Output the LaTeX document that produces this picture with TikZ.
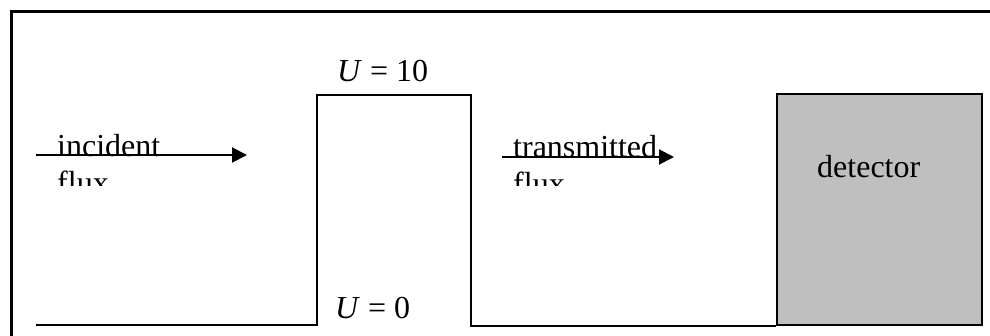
\documentclass[tikz,border=0pt]{standalone}
\usepackage{fontspec}
\setmainfont{Liberation Serif}
\usetikzlibrary{arrows.meta,positioning}

\begin{document}
\begin{tikzpicture}[
    x=1pt, y=-1pt,
    >={Triangle[length=15pt,width=15pt]},
    lbl/.style={inner sep=0pt, font=\fontsize{32}{38}\selectfont},
    line/.style={line width=1.5pt},
    arr/.style={->, line width=2pt},
    detbox/.style={rectangle, draw, line width=1.5pt, fill=black!25, minimum width=205pt, minimum height=231pt}
]
    \clip (0,0) rectangle (990,335);
    % outer frame, runs past the right and bottom edges
    \draw[line width=3pt] (11.5,11.5) rectangle (1010,360);

    % potential: ground, barrier, ground
    \node[detbox] (det) at (879.5,209.5) {};
    \node[lbl, anchor=base west] (detlbl) at (817,177) {detector};
    \coordinate (g0) at (36,325);
    \coordinate (b0) at (317,95);
    \coordinate (b1) at (471,95);
    \draw[line] (g0) -| (b0) -- (b1) |- (det.south west);
    \node[lbl, anchor=base west] (utop) at (337,81) {\textit{U} = 10};
    \node[lbl, anchor=base west] (ubot) at (335,318) {\textit{U} = 0};

    % fluxes
    \coordinate (inc0) at (36,155);
    \coordinate (inc1) at (247,155);
    \coordinate (tr0) at (502,157);
    \coordinate (tr1) at (674,157);
    \begin{scope}
        \clip (0,0) rectangle (990,185);
        \node[lbl, anchor=base west] (inc) at (57,156) {incident};
        \node[lbl, anchor=base west] (incflux) at (57,193) {flux};
        \node[lbl, anchor=base west] (tr) at (513,157) {transmitted};
        \node[lbl, anchor=base west] (trflux) at (513,194) {flux};
    \end{scope}
    \draw[arr] (inc0) -- (inc1);
    \draw[arr] (tr0) -- (tr1);
\end{tikzpicture}
\end{document}
